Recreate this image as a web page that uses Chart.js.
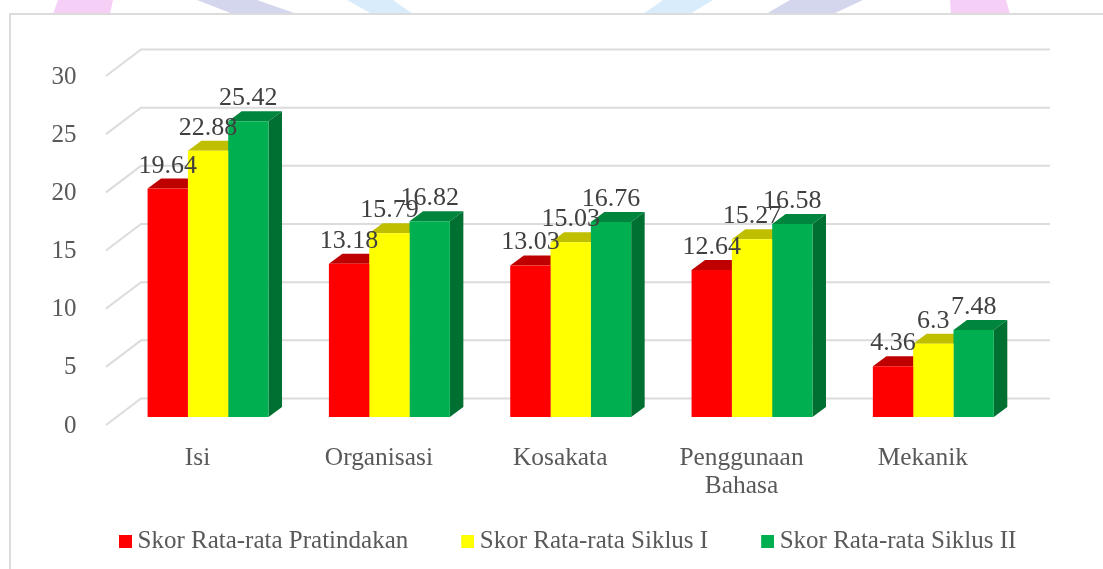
<!DOCTYPE html>
<html><head><meta charset="utf-8">
<style>
html,body{margin:0;padding:0;background:#fff;width:1103px;height:569px;overflow:hidden}
#wm,#frame,canvas{position:absolute;left:0;top:0}
.w{position:absolute;left:0;top:0;width:1103px;height:14px}
#frame{left:9px;top:13px;width:1094px;height:556px;border-left:2px solid #dcdcdc;border-top:2px solid #dcdcdc;box-sizing:border-box;background:#fff}
</style></head><body>
<div id="wm">
<div class="w" style="background:#f6cff6;clip-path:polygon(58px 0,113px 0,110px 14px,53px 14px)"></div>
<div class="w" style="background:#d3d6ec;clip-path:polygon(197px 0,257px 0,297px 14px,233px 14px)"></div>
<div class="w" style="background:#d8ecfb;clip-path:polygon(347px 0,393px 0,413px 14px,372px 14px)"></div>
<div class="w" style="background:#d8ecfb;clip-path:polygon(663px 0,713px 0,690px 14px,643px 14px)"></div>
<div class="w" style="background:#d3d6ec;clip-path:polygon(790px 0,863px 0,833px 14px,766px 14px)"></div>
<div class="w" style="background:#f6cff6;clip-path:polygon(950px 0,1006px 0,1010px 14px,951px 14px)"></div>
</div>
<div id="frame"></div>
<canvas id="c" width="1103" height="569"></canvas>
<script src="https://cdn.jsdelivr.net/npm/chart.js@4/dist/chart.umd.min.js"></script>
<script>
const categories = ["Isi","Organisasi","Kosakata",["Penggunaan","Bahasa"],"Mekanik"];
const seriesNames = ["Skor Rata-rata Pratindakan","Skor Rata-rata Siklus I","Skor Rata-rata Siklus II"];
const pratindakan = [19.64,13.18,13.03,12.64,4.36];
const siklus1 = [22.88,15.79,15.03,15.27,6.3];
const siklus2 = [25.42,16.82,16.76,16.58,7.48];
const yTicks = [0,5,10,15,20,25,30];
const frontColors = ["#ff0000","#ffff00","#00b050"];
const topColors = ["#bf0000","#bfbf00","#00853c"];
const sideColors = ["#a00000","#a0a000","#006f32"];

const FONT = '"Liberation Serif", serif';
const DX = 13.5, DY = 10;

function swatch(color){
  const c = document.createElement('canvas');
  c.width = 15; c.height = 13;
  const g = c.getContext('2d'); g.fillStyle = color; g.fillRect(2,0,13,13);
  return c;
}
const swatches = frontColors.map(swatch);

const chart3d = {
  id:'chart3d',
  afterLayout(chart){
    const l = chart.legend;
    l.left = 66; l.right = 1300; l.top = 471;
  },
  beforeDatasetsDraw(chart){
    const {ctx, scales:{y}} = chart;
    ctx.save();
    ctx.strokeStyle = '#dcdcdc'; ctx.lineWidth = 2;
    yTicks.forEach(v=>{
      const py = y.getPixelForValue(v);
      ctx.beginPath();
      ctx.moveTo(106, py+8);
      ctx.lineTo(141, py-18.5);
      ctx.lineTo(1050, py-18.5);
      ctx.stroke();
    });
    chart.data.datasets.forEach((ds,i)=>{
      chart.getDatasetMeta(i).data.forEach(b=>{
        const L=b.x-b.width/2, R=b.x+b.width/2;
        ctx.fillStyle = topColors[i];
        ctx.beginPath();
        ctx.moveTo(L,b.y);ctx.lineTo(L+DX,b.y-DY);ctx.lineTo(R+DX,b.y-DY);ctx.lineTo(R,b.y);ctx.closePath();ctx.fill();
        ctx.fillStyle = sideColors[i];
        ctx.beginPath();
        ctx.moveTo(R,b.y);ctx.lineTo(R+DX,b.y-DY);ctx.lineTo(R+DX,b.base-DY);ctx.lineTo(R,b.base);ctx.closePath();ctx.fill();
      });
    });
    ctx.restore();
  },
  afterDatasetsDraw(chart){
    const {ctx} = chart;
    ctx.save();
    ctx.fillStyle = '#404040';
    ctx.font = '26px '+FONT;
    ctx.textAlign = 'center';
    ctx.textBaseline = 'alphabetic';
    chart.data.datasets.forEach((ds,i)=>{
      chart.getDatasetMeta(i).data.forEach((b,j)=>{
        ctx.fillText(String(ds.data[j]), b.x, b.y-16);
      });
    });
    ctx.restore();
  }
};

new Chart(document.getElementById('c'),{
  type:'bar',
  plugins:[chart3d],
  data:{
    labels:categories,
    datasets:[pratindakan,siklus1,siklus2].map((d,i)=>({
      label:seriesNames[i], data:d, backgroundColor:frontColors[i], borderWidth:0,
      barPercentage:1, categoryPercentage:0.667
    }))
  },
  options:{
    responsive:false, animation:false,
    layout:{padding:{top:68,left:0,right:79,bottom:0}},
    plugins:{
      tooltip:{enabled:false},
      legend:{
        position:'bottom', align:'start', maxHeight:40,
        labels:{
          font:{family:FONT,size:25}, color:'#595959', padding:58,
          usePointStyle:true, boxHeight:13, pointStyleWidth:1,
          generateLabels(chart){
            return Chart.defaults.plugins.legend.labels.generateLabels(chart).map((it,i)=>({...it,pointStyle:swatches[i]}));
          }
        }
      }
    },
    scales:{
      x:{
        grid:{display:false}, border:{display:false},
        ticks:{padding:19,maxRotation:0,autoSkip:false,labelOffset:-10.5,color:'#595959',font:{family:FONT,size:25.4,lineHeight:1.1}},
        afterFit(s){s.height=112;}
      },
      y:{
        min:0,max:30,
        grid:{display:false}, border:{display:false},
        afterBuildTicks(s){s.ticks=yTicks.map(v=>({value:v}));},
        ticks:{padding:33,labelOffset:9,color:'#595959',font:{family:FONT,size:25}},
        afterFit(s){s.width=117.4;}
      }
    }
  }
});
</script>
</body></html>
